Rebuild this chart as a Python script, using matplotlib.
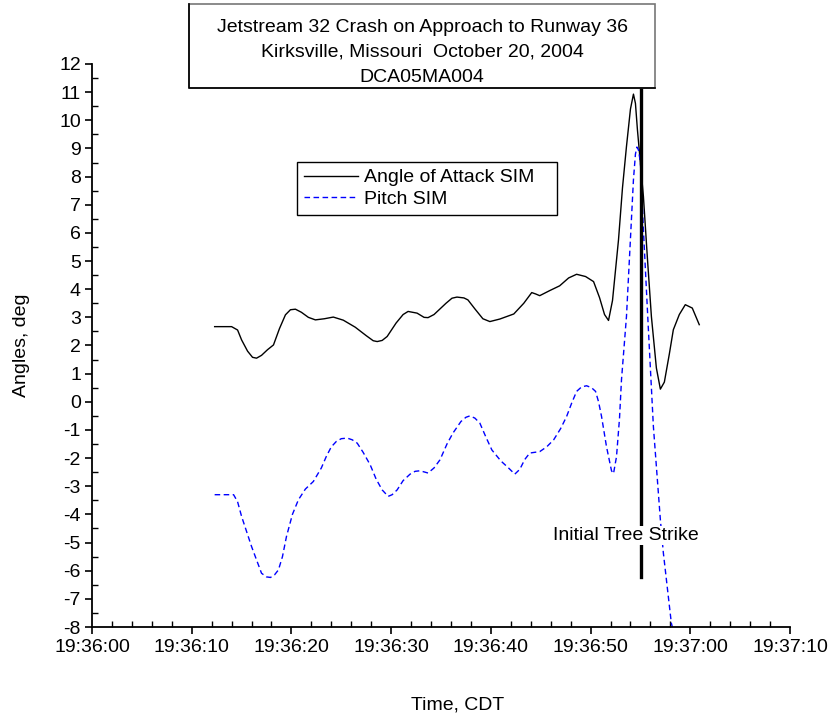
import matplotlib
matplotlib.use("Agg")
import matplotlib.pyplot as plt
from matplotlib.patches import Rectangle
from matplotlib.lines import Line2D

plt.rcParams['font.family'] = ['Liberation Sans', 'DejaVu Sans']
plt.rcParams['axes.unicode_minus'] = False

# seconds after 19:36:00
aoa_t = [12.3, 14.0, 14.6, 15.0, 15.6, 16.1, 16.5, 17.0, 17.6, 18.2, 18.8, 19.4,
         19.9, 20.4, 21.0, 21.7, 22.4, 23.3, 24.2, 25.2, 26.4, 27.5, 28.2, 28.6,
         29.1, 29.6, 30.5, 31.2, 31.7, 32.6, 33.3, 33.7, 34.3, 35.5, 36.1, 36.6,
         37.3, 37.7, 38.4, 39.2, 39.9, 40.9, 42.3, 43.3, 44.1, 44.5, 44.9, 45.9,
         46.9, 47.8, 48.6, 49.5, 50.3, 50.9, 51.4, 51.8, 52.2, 52.8, 53.2, 53.6,
         54.0, 54.3, 54.5, 54.7, 55.3, 55.7, 56.1, 56.6, 57.0, 57.4, 57.9, 58.3,
         58.9, 59.5, 60.2, 60.9]
aoa_v = [2.67, 2.67, 2.55, 2.20, 1.80, 1.58, 1.55, 1.65, 1.85, 2.02, 2.60, 3.09,
         3.27, 3.29, 3.18, 3.00, 2.91, 2.95, 3.01, 2.90, 2.65, 2.35, 2.17, 2.14,
         2.18, 2.32, 2.80, 3.10, 3.21, 3.15, 3.00, 2.99, 3.10, 3.50, 3.68, 3.72,
         3.69, 3.62, 3.30, 2.95, 2.85, 2.94, 3.12, 3.50, 3.88, 3.83, 3.77, 3.95,
         4.12, 4.40, 4.53, 4.45, 4.27, 3.70, 3.10, 2.89, 3.60, 5.75, 7.60, 9.07,
         10.40, 10.93, 10.60, 9.66, 7.29, 5.10, 3.03, 1.20, 0.45, 0.70, 1.70, 2.56,
         3.10, 3.45, 3.33, 2.74]

pitch_t = [12.3, 14.2, 14.6, 15.0, 16.0, 17.0, 17.5, 17.9, 18.3, 18.7, 19.1, 19.5,
           20.1, 20.7, 21.4, 22.2, 23.0, 23.5, 24.0, 24.5, 25.0, 25.6, 26.1, 26.6,
           27.2, 27.9, 28.5, 29.1, 29.7, 30.1, 30.6, 31.2, 31.9, 32.4, 32.9, 33.7,
           34.3, 34.9, 35.6, 36.2, 37.0, 37.5, 37.9, 38.4, 38.9, 39.5, 40.1, 41.0,
           41.8, 42.4, 42.9, 43.4, 43.9, 44.9, 45.6, 46.3, 47.0, 47.6, 48.1, 48.6,
           49.1, 49.6, 50.1, 50.5, 50.8, 51.1, 51.6, 52.1, 52.3, 52.6, 52.9, 53.1,
           53.6, 54.0, 54.3, 54.5, 54.65, 54.8, 55.0, 55.3, 55.8, 56.3, 57.0, 57.3,
           58.1, 58.2]
pitch_v = [-3.30, -3.30, -3.55, -4.07, -5.14, -6.09, -6.22, -6.24, -6.15, -5.97,
           -5.50, -4.79, -4.00, -3.48, -3.10, -2.83, -2.35, -1.94, -1.60, -1.41,
           -1.31, -1.29, -1.35, -1.47, -1.80, -2.24, -2.75, -3.13, -3.36, -3.30,
           -3.13, -2.80, -2.57, -2.47, -2.45, -2.53, -2.35, -2.06, -1.50, -1.11,
           -0.70, -0.55, -0.50, -0.58, -0.76, -1.25, -1.71, -2.10, -2.36, -2.57,
           -2.40, -2.05, -1.82, -1.77, -1.60, -1.35, -0.95, -0.52, -0.05, 0.37,
           0.53, 0.57, 0.50, 0.37, 0.00, -0.52, -1.60, -2.45, -2.55, -1.95,
           -0.60, 0.78, 3.03, 5.80, 7.89, 8.80, 9.05, 8.95, 8.50, 6.11,
           2.56, -0.88, -4.19, -5.37, -7.86, -8.00]

strike_t = 55.1
strike_v = [-6.22, 11.87]

x_ticks = [0, 10, 20, 30, 40, 50, 60, 70]
x_tick_labels = ["19:36:00", "19:36:10", "19:36:20", "19:36:30",
                 "19:36:40", "19:36:50", "19:37:00", "19:37:10"]
y_ticks = list(range(-8, 13))

title_lines = ["Jetstream 32 Crash on Approach to Runway 36",
               "Kirksville, Missouri  October 20, 2004",
               "DCA05MA004"]

W, H = 830, 721
fig = plt.figure(figsize=(W / 100, H / 100), dpi=100)
ax = fig.add_axes([92 / W, 1 - 627 / H, (790 - 92) / W, (627 - 64) / H])

ax.plot(aoa_t, aoa_v, color='black', lw=1.0, label='Angle of Attack SIM   ')
ax.plot(pitch_t, pitch_v, color='#0000ff', lw=1.0, dashes=(4, 2.5), label='Pitch SIM')
ax.plot([strike_t, strike_t], strike_v, color='black', lw=2.4, clip_on=False)
ax.text(strike_t - 1.6, -4.75, "Initial Tree Strike", fontsize=14, ha='center', va='center',
        bbox=dict(facecolor='white', edgecolor='none', pad=1), zorder=5)

ax.set_xlim(0, 70)
ax.set_ylim(-8, 12)
ax.set_xticks(x_ticks)
ax.set_xticklabels(x_tick_labels)
ax.set_xticks([t for t in range(0, 71, 2) if t % 10], minor=True)
ax.set_yticks(y_ticks)
ax.set_yticks([y + 0.5 for y in range(-8, 12)], minor=True)
for s in ['top', 'right']:
    ax.spines[s].set_visible(False)
for s in ['left', 'bottom']:
    ax.spines[s].set_linewidth(1.3)
ax.tick_params(which='major', direction='out', length=5, width=1.2, labelsize=14, pad=3)
ax.tick_params(which='minor', direction='in', length=4, width=1.0)
ax.tick_params(axis='x', which='major', pad=4)

fig.text(458 / W, 1 - 705 / H, "Time, CDT", fontsize=14, ha='center', va='center')
fig.text(22 / W, 1 - 345 / H, "Angles, deg", fontsize=14, ha='center', va='center', rotation=90)

leg = ax.legend(loc='upper left', bbox_to_anchor=(297 / W, 1 - 162 / H),
                bbox_transform=fig.transFigure, fontsize=14, frameon=True,
                fancybox=False, edgecolor='black', framealpha=1, borderpad=0.35,
                handlelength=2.8, handletextpad=0.3, labelspacing=0.2, borderaxespad=0)
leg.get_frame().set_linewidth(1.0)

# title box
fig.add_artist(Rectangle((189 / W, 1 - 88 / H), 466 / W, 84 / H, transform=fig.transFigure,
                         facecolor='white', edgecolor='#777777', lw=1.2, zorder=3))
fig.add_artist(Line2D([189 / W, 189 / W, 655 / W], [1 - 4 / H, 1 - 88 / H, 1 - 88 / H],
                      transform=fig.transFigure, color='black', lw=1.2, zorder=4))
for i, line in enumerate(title_lines):
    fig.text(422 / W, 1 - (27 + 25 * i) / H, line, fontsize=14, ha='center', va='center', zorder=5)

fig.savefig("out.png", dpi=100)
